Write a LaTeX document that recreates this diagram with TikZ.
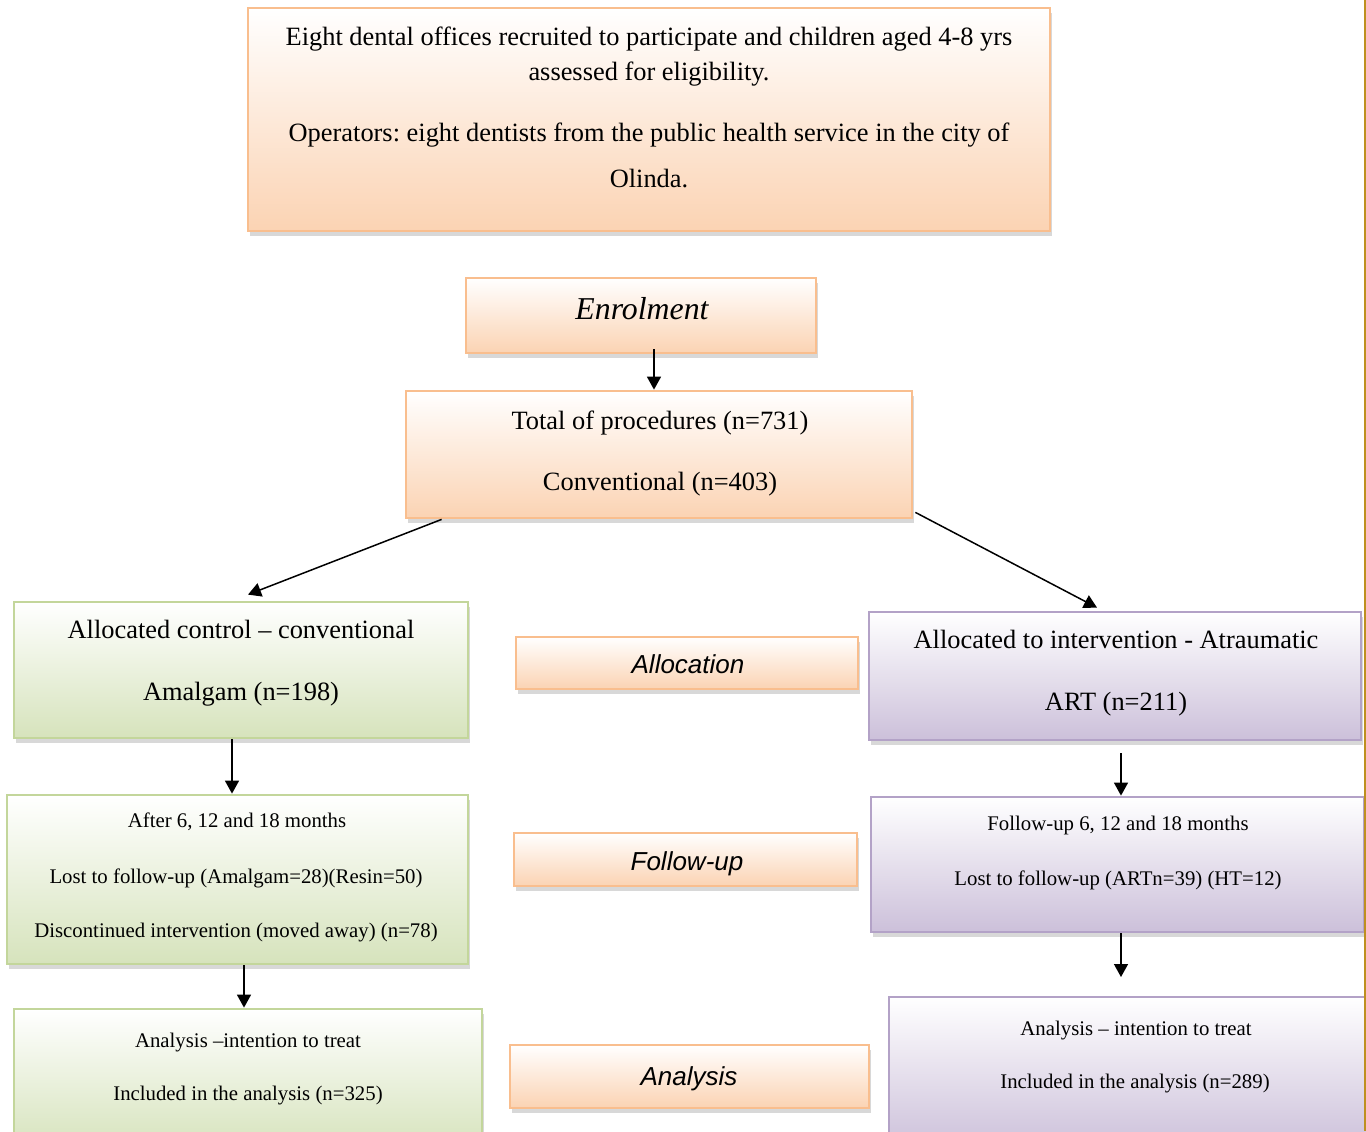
\documentclass[tikz,border=0pt]{standalone}
\usepackage{fontspec}
\setmainfont{Liberation Serif}
\newfontfamily\labfont{Liberation Sans}
\usetikzlibrary{shadows,arrows.meta,calc}
\frenchspacing
\definecolor{orB}{HTML}{F9BE8E}
\definecolor{orF}{HTML}{FBD3B3}
\definecolor{grB}{HTML}{C3D69B}
\definecolor{grF}{HTML}{D6E3BC}
\definecolor{puB}{HTML}{B3A2C7}
\definecolor{puF}{HTML}{CCC0DA}
\definecolor{gold}{HTML}{BE9020}
\tikzset{
  boxbase/.style={rectangle, line width=1.4pt, inner sep=0pt,
    drop shadow={shadow xshift=1pt, shadow yshift=-2.4pt, opacity=0.25, fill=black!60}},
  obox/.style={boxbase, draw=orB, top color=white, bottom color=orF},
  gbox/.style={boxbase, draw=grB, top color=white, bottom color=grF},
  pbox/.style={boxbase, draw=puB, top color=white, bottom color=puF},
  bigtxt/.style={anchor=base, inner sep=0pt, font=\fontsize{13.2}{15}\selectfont},
  smalltxt/.style={anchor=base, inner sep=0pt, font=\fontsize{10.4}{12}\selectfont},
  labtxt/.style={anchor=base, inner sep=0pt, font=\labfont\itshape\fontsize{13}{15}\selectfont},
  arr/.style={line width=0.75pt, -{Triangle[width=7pt,length=6.5pt]}}
}
\begin{document}
\begin{tikzpicture}[x=0.5pt,y=-0.5pt]
\useasboundingbox (0,0) rectangle (1366,1131);
\clip (0,0) rectangle (1366,1131);
\fill[white] (0,0) rectangle (1366,1131);

% boxes
\node[obox, minimum width=401pt, minimum height=111.5pt] (top) at (649,119.5) {};
\node[obox, minimum width=175pt, minimum height=37.5pt] (enrol) at (641,315.5) {};
\node[obox, minimum width=253pt, minimum height=63.5pt] (total) at (659,454.5) {};
\node[gbox, minimum width=227pt, minimum height=68pt] (lalloc) at (241,670) {};
\node[obox, minimum width=171pt, minimum height=26pt] (alloclab) at (687,663) {};
\node[pbox, minimum width=246pt, minimum height=64pt] (ralloc) at (1115,676) {};
\node[gbox, minimum width=230.5pt, minimum height=84.5pt] (lfollow) at (237.5,879.5) {};
\node[obox, minimum width=171.5pt, minimum height=26.5pt] (followlab) at (685.5,859.5) {};
\node[pbox, minimum width=246.5pt, minimum height=67.5pt] (rfollow) at (1117.5,864.5) {};
\node[gbox, minimum width=234pt, minimum height=70.5pt] (lanal) at (248,1079.5) {};
\node[obox, minimum width=179.5pt, minimum height=31.5pt] (analab) at (689.5,1076.5) {};
\node[pbox, minimum width=243pt, minimum height=76.5pt] (ranal) at (1132,1073.5) {};

% texts
\node[bigtxt] (t1) at (649,45) {Eight dental offices recruited to participate and children aged 4-8 yrs};
\node[bigtxt] (t2) at (649,80) {assessed for eligibility.};
\node[bigtxt] (t3) at (649,141) {Operators: eight dentists from the public health service in the city of};
\node[bigtxt] (t4) at (649,187) {Olinda.};
\node[anchor=base, inner sep=0pt, font=\itshape\fontsize{15.9}{18}\selectfont] (t5) at (642,319) {Enrolment};
\node[bigtxt] (t6) at (660,429) {Total of procedures (n=731)};
\node[bigtxt] (t7) at (660,490) {Conventional (n=403)};
\node[bigtxt] (t8) at (241,638) {Allocated control -- conventional};
\node[bigtxt] (t9) at (241,700) {Amalgam (n=198)};
\node[bigtxt] (t10) at (1116,648) {Allocated to intervention - Atraumatic};
\node[bigtxt] (t11) at (1116,710) {ART (n=211)};
\node[labtxt] (t12) at (688,673) {Allocation};
\node[smalltxt] (t13) at (237,827) {After 6, 12 and 18 months};
\node[smalltxt] (t14) at (236,883) {Lost to follow-up (Amalgam=28)(Resin=50)};
\node[smalltxt] (t15) at (236,937) {Discontinued intervention (moved away) (n=78)};
\node[labtxt] (t16) at (687,870) {Follow-up};
\node[smalltxt] (t17) at (1118,830) {Follow-up 6, 12 and 18 months};
\node[smalltxt] (t18) at (1118,885) {Lost to follow-up (ARTn=39) (HT=12)};
\node[smalltxt] (t19) at (248,1047) {Analysis --intention to treat};
\node[smalltxt] (t20) at (248,1100) {Included in the analysis (n=325)};
\node[labtxt] (t21) at (689,1085) {Analysis};
\node[smalltxt] (t22) at (1136,1035) {Analysis -- intention to treat};
\node[smalltxt] (t23) at (1135,1088) {Included in the analysis (n=289)};

% connectors
\draw[arr] ([xshift=6.5pt,yshift=2.5pt]enrol.south) -- ([xshift=6.5pt]enrol.south |- total.north);
\draw[arr] ([xshift=18.5pt]total.south west) -- ([xshift=3.5pt,yshift=3pt]lalloc.north);
\draw[arr] ([xshift=1pt,yshift=3.5pt]total.south east) -- ([xshift=-9pt,yshift=1.5pt]ralloc.north);
\draw[arr] ([xshift=-4.5pt]lalloc.south) -- ([xshift=-4.5pt]lalloc.south |- lfollow.north);
\draw[arr] ([xshift=3.25pt]lfollow.south) -- ([xshift=3.25pt]lfollow.south |- lanal.north);
\draw[arr] ([xshift=3pt,yshift=-6pt]ralloc.south) -- ([xshift=3pt]ralloc.south |- rfollow.north);
\coordinate (rgap) at (1121,977);
\draw[arr] ([xshift=1.75pt]rfollow.south) -- (rgap);

% page edge line
\draw[gold, line width=1pt] (1365,0) -- (1365,1131);
\end{tikzpicture}
\end{document}
